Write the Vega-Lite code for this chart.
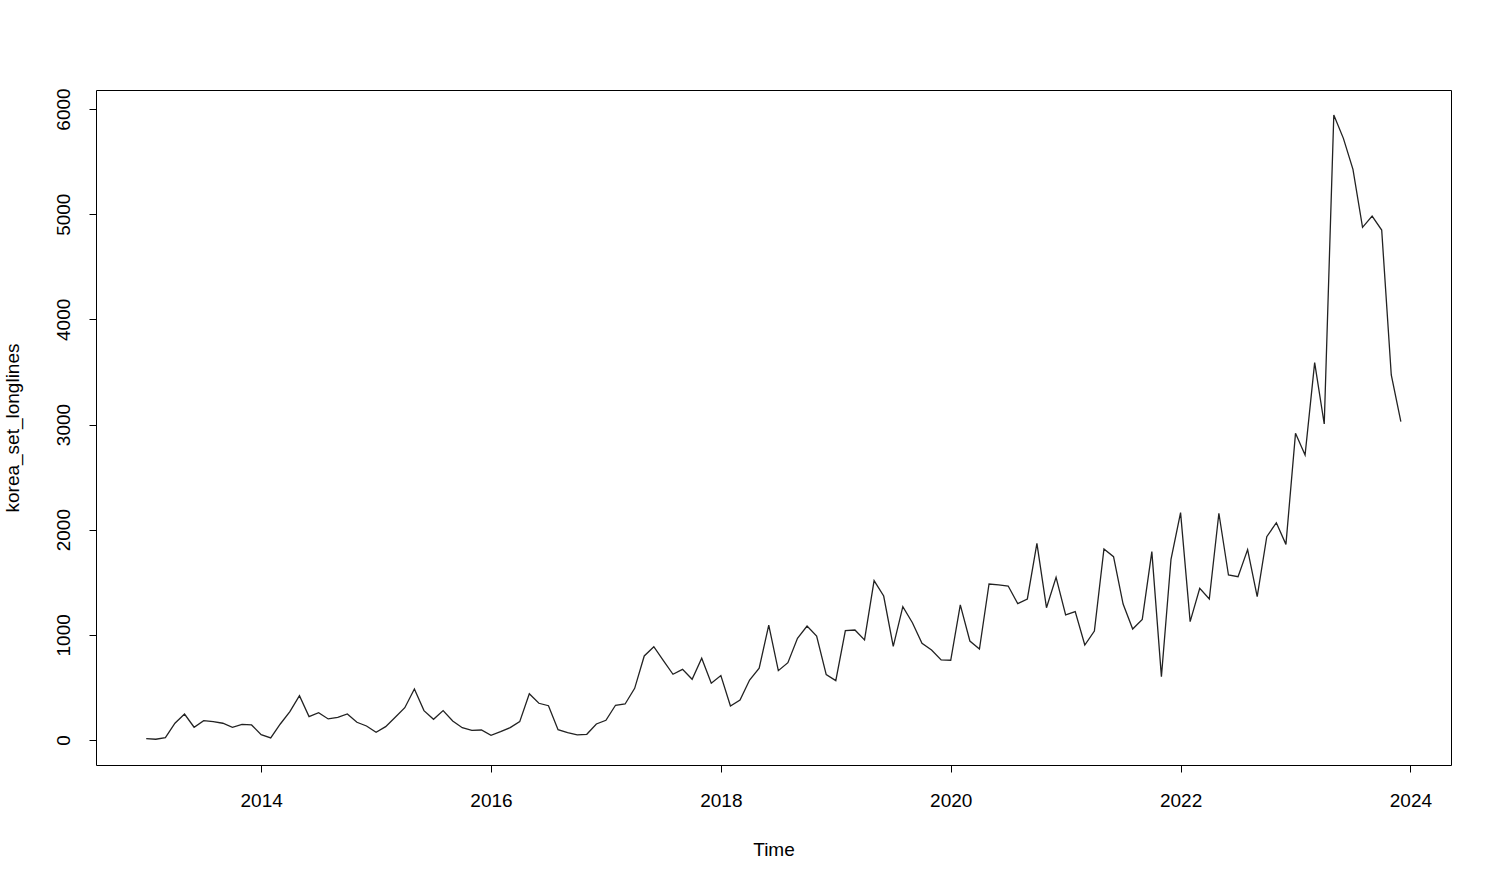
{
  "$schema": "https://vega.github.io/schema/vega-lite/v6.json",
  "autosize": "none",
  "width": 1355,
  "height": 675,
  "padding": {"left": 96, "top": 90, "right": 34, "bottom": 108},
  "background": "white",
  "config": {
    "view": {"stroke": "#000000", "strokeWidth": 1},
    "font": "Liberation Sans",
    "axis": {
      "grid": false,
      "domain": false,
      "tickColor": "#000000",
      "tickSize": 7,
      "tickWidth": 1,
      "labelFont": "Liberation Sans",
      "labelFontSize": 19,
      "labelColor": "#000000",
      "titleFont": "Liberation Sans",
      "titleFontSize": 19,
      "titleFontWeight": "normal",
      "titleColor": "#000000"
    }
  },
  "data": {
    "values": [
      {"time": 2013.0, "value": 12}, {"time": 2013.0833, "value": 7}, {"time": 2013.1667, "value": 22}, {"time": 2013.25, "value": 159},
      {"time": 2013.3333, "value": 247}, {"time": 2013.4167, "value": 121}, {"time": 2013.5, "value": 184}, {"time": 2013.5833, "value": 174},
      {"time": 2013.6667, "value": 159}, {"time": 2013.75, "value": 121}, {"time": 2013.8333, "value": 149}, {"time": 2013.9167, "value": 143},
      {"time": 2014.0, "value": 51}, {"time": 2014.0833, "value": 19}, {"time": 2014.1667, "value": 152}, {"time": 2014.25, "value": 269},
      {"time": 2014.3333, "value": 421}, {"time": 2014.4167, "value": 222}, {"time": 2014.5, "value": 260}, {"time": 2014.5833, "value": 200},
      {"time": 2014.6667, "value": 214}, {"time": 2014.75, "value": 247}, {"time": 2014.8333, "value": 168}, {"time": 2014.9167, "value": 133},
      {"time": 2015.0, "value": 73}, {"time": 2015.0833, "value": 127}, {"time": 2015.1667, "value": 216}, {"time": 2015.25, "value": 307},
      {"time": 2015.3333, "value": 485}, {"time": 2015.4167, "value": 279}, {"time": 2015.5, "value": 197}, {"time": 2015.5833, "value": 279},
      {"time": 2015.6667, "value": 181}, {"time": 2015.75, "value": 117}, {"time": 2015.8333, "value": 92}, {"time": 2015.9167, "value": 95},
      {"time": 2016.0, "value": 44}, {"time": 2016.0833, "value": 79}, {"time": 2016.1667, "value": 117}, {"time": 2016.25, "value": 174},
      {"time": 2016.3333, "value": 440}, {"time": 2016.4167, "value": 349}, {"time": 2016.5, "value": 326}, {"time": 2016.5833, "value": 98},
      {"time": 2016.6667, "value": 70}, {"time": 2016.75, "value": 48}, {"time": 2016.8333, "value": 54}, {"time": 2016.9167, "value": 152},
      {"time": 2017.0, "value": 187}, {"time": 2017.0833, "value": 330}, {"time": 2017.1667, "value": 342}, {"time": 2017.25, "value": 491},
      {"time": 2017.3333, "value": 799}, {"time": 2017.4167, "value": 887}, {"time": 2017.5, "value": 754}, {"time": 2017.5833, "value": 625},
      {"time": 2017.6667, "value": 672}, {"time": 2017.75, "value": 577}, {"time": 2017.8333, "value": 777}, {"time": 2017.9167, "value": 539},
      {"time": 2018.0, "value": 613}, {"time": 2018.0833, "value": 323}, {"time": 2018.1667, "value": 380}, {"time": 2018.25, "value": 570},
      {"time": 2018.3333, "value": 682}, {"time": 2018.4167, "value": 1093}, {"time": 2018.5, "value": 659}, {"time": 2018.5833, "value": 735},
      {"time": 2018.6667, "value": 967}, {"time": 2018.75, "value": 1084}, {"time": 2018.8333, "value": 989}, {"time": 2018.9167, "value": 621},
      {"time": 2019.0, "value": 564}, {"time": 2019.0833, "value": 1039}, {"time": 2019.1667, "value": 1046}, {"time": 2019.25, "value": 951},
      {"time": 2019.3333, "value": 1515}, {"time": 2019.4167, "value": 1369}, {"time": 2019.5, "value": 890}, {"time": 2019.5833, "value": 1268},
      {"time": 2019.6667, "value": 1115}, {"time": 2019.75, "value": 919}, {"time": 2019.8333, "value": 856}, {"time": 2019.9167, "value": 761},
      {"time": 2020.0, "value": 758}, {"time": 2020.0833, "value": 1284}, {"time": 2020.1667, "value": 941}, {"time": 2020.25, "value": 865},
      {"time": 2020.3333, "value": 1483}, {"time": 2020.4167, "value": 1474}, {"time": 2020.5, "value": 1464}, {"time": 2020.5833, "value": 1296},
      {"time": 2020.6667, "value": 1341}, {"time": 2020.75, "value": 1870}, {"time": 2020.8333, "value": 1258}, {"time": 2020.9167, "value": 1547},
      {"time": 2021.0, "value": 1190}, {"time": 2021.0833, "value": 1220}, {"time": 2021.1667, "value": 903}, {"time": 2021.25, "value": 1036},
      {"time": 2021.3333, "value": 1816}, {"time": 2021.4167, "value": 1743}, {"time": 2021.5, "value": 1293}, {"time": 2021.5833, "value": 1055},
      {"time": 2021.6667, "value": 1147}, {"time": 2021.75, "value": 1791}, {"time": 2021.8333, "value": 602}, {"time": 2021.9167, "value": 1718},
      {"time": 2022.0, "value": 2162}, {"time": 2022.0833, "value": 1125}, {"time": 2022.1667, "value": 1442}, {"time": 2022.25, "value": 1341},
      {"time": 2022.3333, "value": 2156}, {"time": 2022.4167, "value": 1569}, {"time": 2022.5, "value": 1553}, {"time": 2022.5833, "value": 1810},
      {"time": 2022.6667, "value": 1363}, {"time": 2022.75, "value": 1933}, {"time": 2022.8333, "value": 2066}, {"time": 2022.9167, "value": 1860},
      {"time": 2023.0, "value": 2916}, {"time": 2023.0833, "value": 2710}, {"time": 2023.1667, "value": 3588}, {"time": 2023.25, "value": 3005},
      {"time": 2023.3333, "value": 5943}, {"time": 2023.4167, "value": 5721}, {"time": 2023.5, "value": 5426}, {"time": 2023.5833, "value": 4875},
      {"time": 2023.6667, "value": 4982}, {"time": 2023.75, "value": 4849}, {"time": 2023.8333, "value": 3471}, {"time": 2023.9167, "value": 3027}
    ]
  },
  "mark": {"type": "line", "color": "#222222", "strokeWidth": 1.3, "clip": true},
  "encoding": {
    "x": {
      "field": "time",
      "type": "quantitative",
      "scale": {"domain": [2012.563, 2024.353], "nice": false, "zero": false},
      "axis": {
        "title": "Time",
        "values": [2014, 2016, 2018, 2020, 2022, 2024],
        "format": "d",
        "labelPadding": 19,
        "titlePadding": 30
      }
    },
    "y": {
      "field": "value",
      "type": "quantitative",
      "scale": {"domain": [-238, 6181], "nice": false, "zero": false},
      "axis": {
        "title": "korea_set_longlines",
        "values": [0, 1000, 2000, 3000, 4000, 5000, 6000],
        "format": "d",
        "labelAngle": 270,
        "labelAlign": "center",
        "labelBaseline": "bottom",
        "labelPadding": 16,
        "titlePadding": 32
      }
    }
  }
}
